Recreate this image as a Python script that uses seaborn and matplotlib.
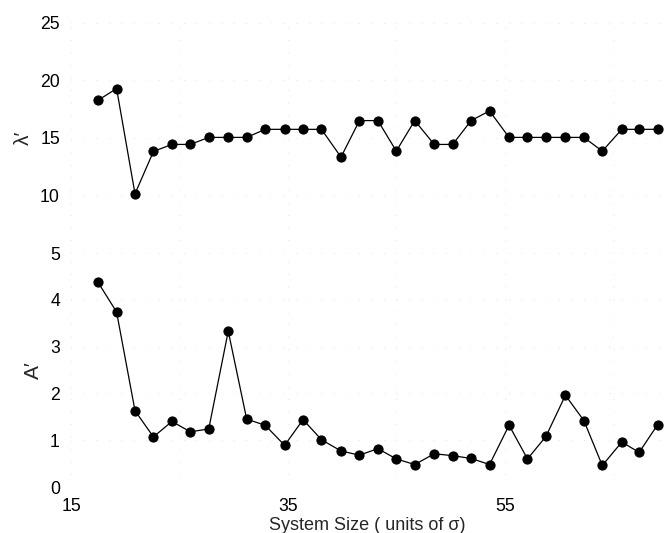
import matplotlib
matplotlib.use("Agg")
import matplotlib.pyplot as plt
import seaborn as sns
import pandas as pd

# system size (units of sigma)
size = [17.5, 19.2, 20.9, 22.6, 24.3, 26.0, 27.7, 29.5, 31.2, 32.9, 34.7,
        36.4, 38.1, 39.9, 41.6, 43.3, 45.0, 46.7, 48.5, 50.2, 51.9, 53.6,
        55.4, 57.1, 58.8, 60.6, 62.3, 64.0, 65.8, 67.4, 69.1]

lam = [18.27, 19.28, 10.14, 13.82, 14.43, 14.43, 15.04, 15.04, 15.04, 15.74,
       15.74, 15.74, 15.74, 13.33, 16.5, 16.5, 13.85, 16.5, 14.43, 14.43,
       16.5, 17.34, 15.04, 15.04, 15.04, 15.04, 15.04, 13.85, 15.74, 15.74,
       15.74]

amp = [4.37, 3.74, 1.63, 1.07, 1.40, 1.18, 1.24, 3.33, 1.45, 1.32, 0.89,
       1.44, 1.01, 0.77, 0.68, 0.82, 0.60, 0.48, 0.71, 0.67, 0.61, 0.48,
       1.32, 0.60, 1.08, 1.96, 1.42, 0.46, 0.96, 0.74, 1.33]

df = pd.DataFrame({"size": size, "lam": lam, "amp": amp})

sns.set_theme(style="white")
plt.rcParams["font.family"] = ["Liberation Sans", "DejaVu Sans"]

fig = plt.figure(figsize=(6.64, 5.33), dpi=100)
ax1 = fig.add_axes([0.107, 0.5253, 0.8915, 0.4321])
ax2 = fig.add_axes([0.107, 0.0863, 0.8915, 0.4390])

style = dict(color="black", marker="o", markersize=6.6, markeredgecolor="black",
             linewidth=0.9, clip_on=False)
sns.lineplot(data=df, x="size", y="lam", ax=ax1, **style)
sns.lineplot(data=df, x="size", y="amp", ax=ax2, **style)

xt = [15, 25, 35, 45, 55, 65]
for ax in (ax1, ax2):
    ax.set_xlim(15, 69.6)
    ax.set_xticks(xt)
    for s in ax.spines.values():
        s.set_visible(False)
    ax.tick_params(length=0, labelsize=12.7, colors="black", pad=8)
    ax.grid(True, color="#dddddd", linestyle=(0, (1, 14)), linewidth=0.6)

ax1.set_ylim(5, 25)
ax1.set_yticks([5, 10, 15, 20, 25])
ax1.set_yticklabels(["", "10", "15", "20", "25"])
ax1.set_xticklabels([])
ax1.set_xlabel("")
ax1.set_ylabel("λ′", fontsize=15, labelpad=5)

ax2.set_ylim(0, 5)
ax2.set_yticks([0, 1, 2, 3, 4, 5])
ax2.set_xticklabels(["15", "", "35", "", "55", ""])
ax2.set_xlabel("System Size ( units of σ)", fontsize=13, labelpad=1)
ax2.set_ylabel("A′", fontsize=15, labelpad=5)

fig.savefig("out.png", dpi=100)
